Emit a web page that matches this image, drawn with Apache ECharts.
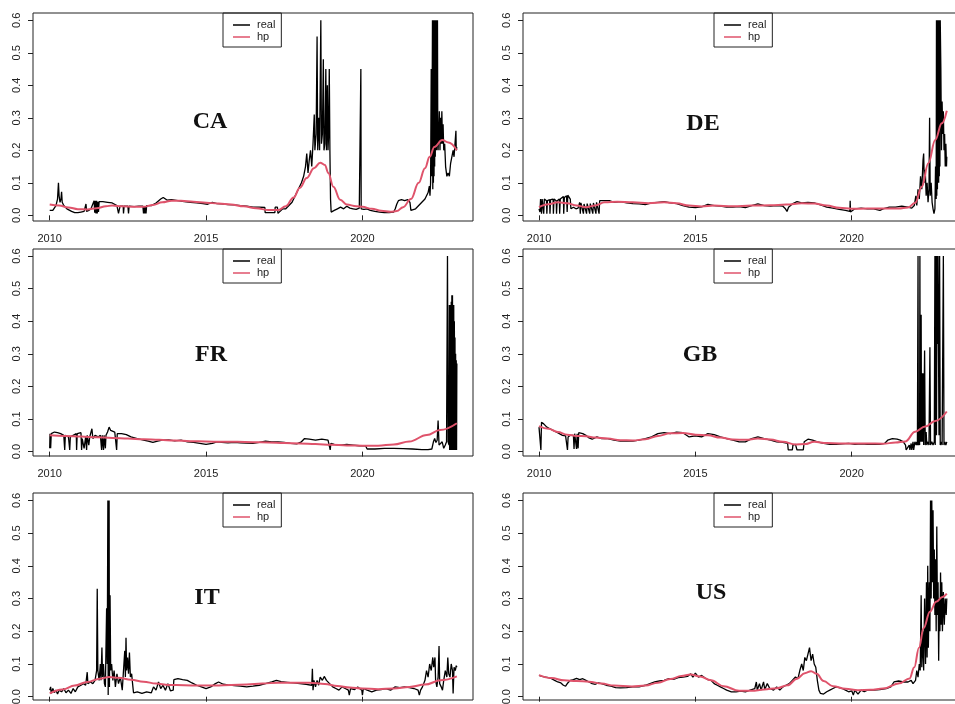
<!DOCTYPE html>
<html><head><meta charset="utf-8">
<script src="https://cdn.jsdelivr.net/npm/echarts@6/dist/echarts.min.js"></script>
<style>html,body{margin:0;padding:0;background:#fff}#c{width:955px;height:704px}</style>
</head><body><div id="c"></div>
<script>
const xTicks = [2010, 2015, 2020];
const yTicks = [0, 0.1, 0.2, 0.3, 0.4, 0.5, 0.6];
const countries = ['CA', 'DE', 'FR', 'GB', 'IT', 'US'];

const caReal = [[2010.00,0.015],[2010.05,0.012],[2010.10,0.015],[2010.15,0.02],[2010.20,0.03],[2010.25,0.05],[2010.28,0.10],[2010.30,0.06],[2010.33,0.04],[2010.36,0.05],[2010.38,0.072],[2010.40,0.04],[2010.45,0.03],[2010.50,0.035],[2010.55,0.02],[2010.60,0.015],[2010.70,0.012],[2010.80,0.008],[2010.90,0.008],[2011.00,0.01],[2011.10,0.012],[2011.16,0.035],[2011.18,0.012],[2011.25,0.015],[2011.32,0.02],[2011.38,0.015],[2011.42,0.045],[2011.44,0.008],[2011.46,0.045],[2011.48,0.006],[2011.50,0.045],[2011.52,0.006],[2011.54,0.042],[2011.56,0.01],[2011.58,0.042],[2011.70,0.042],[2011.85,0.04],[2012.00,0.038],[2012.15,0.03],[2012.19,0.03],[2012.20,0.006],[2012.24,0.006],[2012.25,0.028],[2012.35,0.028],[2012.36,0.006],[2012.38,0.028],[2012.50,0.028],[2012.52,0.006],[2012.54,0.028],[2012.70,0.027],[2012.85,0.028],[2012.98,0.028],[2013.00,0.006],[2013.02,0.028],[2013.04,0.006],[2013.06,0.028],[2013.08,0.006],[2013.10,0.03],[2013.25,0.03],[2013.40,0.038],[2013.55,0.05],[2013.63,0.055],[2013.75,0.047],[2013.90,0.048],[2014.10,0.045],[2014.30,0.042],[2014.50,0.04],[2014.70,0.038],[2014.90,0.036],[2015.05,0.034],[2015.20,0.04],[2015.35,0.036],[2015.50,0.035],[2015.70,0.033],[2015.90,0.032],[2016.10,0.03],[2016.30,0.028],[2016.50,0.025],[2016.70,0.025],[2016.88,0.024],[2016.89,0.008],[2017.10,0.008],[2017.20,0.008],[2017.21,0.025],[2017.28,0.025],[2017.30,0.006],[2017.35,0.012],[2017.45,0.02],[2017.55,0.02],[2017.65,0.03],[2017.75,0.04],[2017.85,0.06],[2017.95,0.08],[2018.05,0.1],[2018.12,0.12],[2018.18,0.15],[2018.22,0.19],[2018.26,0.13],[2018.30,0.17],[2018.34,0.2],[2018.38,0.15],[2018.42,0.22],[2018.46,0.31],[2018.48,0.2],[2018.52,0.25],[2018.55,0.55],[2018.57,0.2],[2018.60,0.3],[2018.63,0.2],[2018.67,0.6],[2018.69,0.22],[2018.72,0.25],[2018.75,0.48],[2018.77,0.2],[2018.80,0.22],[2018.83,0.45],[2018.85,0.2],[2018.88,0.4],[2018.90,0.2],[2018.92,0.25],[2018.94,0.45],[2018.96,0.2],[2018.98,0.05],[2019.00,0.01],[2019.05,0.005],[2019.10,0.015],[2019.20,0.02],[2019.30,0.025],[2019.40,0.02],[2019.50,0.028],[2019.60,0.022],[2019.70,0.02],[2019.80,0.018],[2019.90,0.022],[2019.94,0.02],[2019.95,0.45],[2019.96,0.02],[2020.05,0.018],[2020.15,0.02],[2020.25,0.015],[2020.40,0.012],[2020.55,0.01],[2020.70,0.008],[2020.85,0.008],[2021.00,0.01],[2021.05,0.02],[2021.10,0.035],[2021.15,0.045],[2021.25,0.048],[2021.35,0.045],[2021.45,0.048],[2021.52,0.04],[2021.55,0.015],[2021.60,0.012],[2021.70,0.02],[2021.80,0.03],[2021.90,0.04],[2022.00,0.05],[2022.05,0.06],[2022.10,0.07],[2022.14,0.09],[2022.16,0.06],[2022.18,0.1],[2022.20,0.45],[2022.22,0.12],[2022.24,0.6],[2022.25,0.08],[2022.26,0.6],[2022.27,0.1],[2022.28,0.6],[2022.29,0.12],[2022.30,0.6],[2022.31,0.15],[2022.32,0.6],[2022.33,0.18],[2022.34,0.6],[2022.35,0.2],[2022.36,0.6],[2022.37,0.2],[2022.38,0.6],[2022.39,0.22],[2022.40,0.6],[2022.41,0.22],[2022.42,0.2],[2022.44,0.25],[2022.46,0.32],[2022.48,0.2],[2022.50,0.3],[2022.52,0.22],[2022.54,0.32],[2022.56,0.22],[2022.58,0.28],[2022.60,0.2],[2022.63,0.22],[2022.66,0.15],[2022.70,0.12],[2022.74,0.13],[2022.78,0.12],[2022.82,0.16],[2022.86,0.18],[2022.90,0.2],[2022.93,0.18],[2022.96,0.22],[2022.99,0.26],[2023.00,0.2],[2023.02,0.21]];
const caHp = [[2010.0,0.033],[2010.3,0.03],[2010.6,0.024],[2010.9,0.019],[2011.2,0.018],[2011.5,0.022],[2011.8,0.028],[2012.0,0.03],[2012.3,0.028],[2012.7,0.026],[2013.0,0.026],[2013.3,0.032],[2013.6,0.04],[2013.9,0.045],[2014.2,0.045],[2014.6,0.042],[2015.0,0.039],[2015.4,0.036],[2015.8,0.033],[2016.2,0.028],[2016.6,0.022],[2017.0,0.016],[2017.3,0.016],[2017.55,0.028],[2017.8,0.055],[2018.0,0.085],[2018.22,0.115],[2018.45,0.145],[2018.65,0.162],[2018.8,0.155],[2018.91,0.13],[2019.07,0.088],[2019.29,0.048],[2019.5,0.033],[2019.8,0.028],[2020.0,0.026],[2020.3,0.02],[2020.6,0.014],[2020.9,0.011],[2021.1,0.013],[2021.3,0.025],[2021.55,0.05],[2021.8,0.1],[2022.0,0.145],[2022.15,0.18],[2022.3,0.21],[2022.55,0.232],[2022.75,0.224],[2023.02,0.2]];

const deReal = [[2010.00,0.02],[2010.03,0.01],[2010.05,0.05],[2010.08,0.005],[2010.10,0.05],[2010.14,0.05],[2010.15,0.005],[2010.17,0.05],[2010.24,0.045],[2010.25,0.005],[2010.27,0.045],[2010.34,0.048],[2010.35,0.005],[2010.37,0.048],[2010.45,0.05],[2010.46,0.005],[2010.48,0.05],[2010.55,0.045],[2010.56,0.005],[2010.58,0.045],[2010.65,0.05],[2010.66,0.005],[2010.68,0.05],[2010.78,0.058],[2010.79,0.005],[2010.81,0.055],[2010.88,0.06],[2010.90,0.01],[2010.92,0.062],[2011.00,0.05],[2011.02,0.02],[2011.10,0.025],[2011.18,0.02],[2011.25,0.022],[2011.30,0.04],[2011.32,0.005],[2011.34,0.038],[2011.40,0.035],[2011.42,0.005],[2011.44,0.035],[2011.50,0.038],[2011.52,0.005],[2011.54,0.036],[2011.60,0.035],[2011.62,0.005],[2011.64,0.036],[2011.70,0.04],[2011.72,0.005],[2011.74,0.038],[2011.80,0.04],[2011.82,0.005],[2011.84,0.04],[2011.90,0.042],[2011.92,0.005],[2011.94,0.045],[2012.00,0.05],[2012.10,0.045],[2012.25,0.045],[2012.40,0.04],[2012.60,0.042],[2012.80,0.038],[2013.00,0.036],[2013.20,0.035],[2013.40,0.033],[2013.60,0.038],[2013.80,0.04],[2014.00,0.042],[2014.20,0.038],[2014.40,0.036],[2014.60,0.03],[2014.80,0.025],[2015.00,0.024],[2015.20,0.026],[2015.40,0.034],[2015.60,0.03],[2015.80,0.028],[2016.00,0.025],[2016.20,0.025],[2016.40,0.027],[2016.60,0.024],[2016.80,0.03],[2017.00,0.035],[2017.20,0.03],[2017.40,0.028],[2017.60,0.03],[2017.80,0.028],[2017.88,0.02],[2017.93,0.012],[2017.98,0.025],[2018.10,0.035],[2018.25,0.042],[2018.40,0.038],[2018.60,0.04],[2018.80,0.038],[2019.00,0.032],[2019.20,0.025],[2019.40,0.022],[2019.60,0.018],[2019.80,0.015],[2019.94,0.012],[2019.95,0.045],[2019.96,0.01],[2020.10,0.02],[2020.30,0.022],[2020.50,0.02],[2020.70,0.02],[2020.90,0.015],[2021.00,0.02],[2021.20,0.025],[2021.40,0.025],[2021.60,0.028],[2021.80,0.025],[2021.92,0.022],[2022.00,0.03],[2022.05,0.06],[2022.08,0.03],[2022.12,0.08],[2022.16,0.05],[2022.20,0.12],[2022.24,0.08],[2022.28,0.17],[2022.30,0.19],[2022.32,0.1],[2022.35,0.14],[2022.38,0.06],[2022.41,0.1],[2022.44,0.04],[2022.47,0.08],[2022.49,0.3],[2022.51,0.06],[2022.54,0.1],[2022.57,0.04],[2022.60,0.02],[2022.63,0.005],[2022.66,0.02],[2022.68,0.15],[2022.70,0.05],[2022.71,0.6],[2022.72,0.06],[2022.73,0.6],[2022.74,0.08],[2022.75,0.6],[2022.76,0.1],[2022.77,0.6],[2022.78,0.1],[2022.79,0.6],[2022.80,0.12],[2022.81,0.6],[2022.82,0.15],[2022.83,0.6],[2022.85,0.45],[2022.87,0.2],[2022.89,0.35],[2022.91,0.25],[2022.93,0.32],[2022.95,0.2],[2022.97,0.25],[2022.99,0.15],[2023.01,0.22],[2023.03,0.15],[2023.04,0.18]];
const deHp = [[2010.0,0.025],[2010.3,0.034],[2010.6,0.04],[2010.9,0.037],[2011.2,0.03],[2011.5,0.025],[2011.8,0.03],[2012.1,0.04],[2012.5,0.042],[2013.0,0.04],[2013.5,0.037],[2014.0,0.04],[2014.4,0.037],[2014.8,0.03],[2015.2,0.027],[2015.6,0.03],[2016.2,0.028],[2016.8,0.03],[2017.4,0.031],[2017.9,0.033],[2018.4,0.037],[2018.8,0.036],[2019.2,0.03],[2019.6,0.023],[2020.0,0.02],[2020.5,0.021],[2021.0,0.021],[2021.5,0.021],[2021.8,0.024],[2022.03,0.039],[2022.24,0.088],[2022.45,0.16],[2022.67,0.232],[2022.88,0.283],[2023.04,0.322]];

const frReal = [[2010.00,0.01],[2010.01,0.055],[2010.03,0.01],[2010.05,0.055],[2010.15,0.06],[2010.25,0.058],[2010.35,0.055],[2010.45,0.05],[2010.48,0.005],[2010.50,0.05],[2010.60,0.045],[2010.64,0.005],[2010.66,0.045],[2010.75,0.05],[2010.85,0.055],[2010.86,0.005],[2010.88,0.055],[2011.00,0.058],[2011.02,0.005],[2011.04,0.04],[2011.10,0.01],[2011.15,0.045],[2011.18,0.005],[2011.20,0.05],[2011.25,0.02],[2011.28,0.045],[2011.35,0.07],[2011.38,0.04],[2011.45,0.05],[2011.55,0.045],[2011.62,0.05],[2011.66,0.005],[2011.68,0.05],[2011.72,0.005],[2011.74,0.05],[2011.78,0.01],[2011.80,0.05],[2011.85,0.06],[2011.90,0.075],[2011.95,0.065],[2012.00,0.07],[2012.08,0.06],[2012.12,0.058],[2012.14,0.005],[2012.16,0.055],[2012.30,0.055],[2012.45,0.052],[2012.60,0.045],[2012.80,0.04],[2013.00,0.035],[2013.15,0.032],[2013.30,0.028],[2013.45,0.032],[2013.60,0.035],[2013.80,0.036],[2014.00,0.033],[2014.20,0.035],[2014.40,0.03],[2014.60,0.028],[2014.80,0.025],[2015.00,0.022],[2015.20,0.025],[2015.35,0.03],[2015.50,0.028],[2015.70,0.027],[2015.90,0.028],[2016.10,0.027],[2016.30,0.026],[2016.50,0.025],[2016.70,0.028],[2016.90,0.032],[2017.10,0.03],[2017.30,0.03],[2017.50,0.028],[2017.70,0.025],[2017.90,0.024],[2018.05,0.03],[2018.15,0.04],[2018.30,0.038],[2018.50,0.035],[2018.70,0.038],[2018.90,0.035],[2018.96,0.03],[2018.97,0.005],[2018.99,0.025],[2019.10,0.022],[2019.30,0.02],[2019.50,0.022],[2019.70,0.02],[2019.90,0.018],[2020.10,0.018],[2020.15,0.008],[2020.40,0.008],[2020.70,0.01],[2021.00,0.01],[2021.30,0.009],[2021.60,0.008],[2021.90,0.006],[2022.10,0.006],[2022.22,0.008],[2022.27,0.03],[2022.31,0.04],[2022.35,0.028],[2022.39,0.035],[2022.42,0.095],[2022.45,0.02],[2022.50,0.015],[2022.55,0.03],[2022.60,0.01],[2022.65,0.02],[2022.69,0.03],[2022.72,0.6],[2022.74,0.03],[2022.77,0.02],[2022.78,0.45],[2022.79,0.005],[2022.80,0.45],[2022.81,0.005],[2022.82,0.45],[2022.83,0.005],[2022.84,0.46],[2022.85,0.005],[2022.86,0.48],[2022.87,0.005],[2022.88,0.48],[2022.89,0.005],[2022.90,0.45],[2022.91,0.005],[2022.92,0.45],[2022.93,0.005],[2022.94,0.4],[2022.95,0.005],[2022.96,0.35],[2022.97,0.005],[2022.98,0.3],[2022.99,0.005],[2023.00,0.28],[2023.01,0.005],[2023.02,0.27]];
const frHp = [[2010.0,0.05],[2010.5,0.048],[2011.0,0.046],[2011.5,0.044],[2012.0,0.042],[2012.5,0.04],[2013.0,0.038],[2013.5,0.036],[2014.0,0.034],[2014.5,0.032],[2015.0,0.031],[2015.5,0.03],[2016.0,0.03],[2016.5,0.029],[2017.0,0.028],[2017.5,0.026],[2018.0,0.025],[2018.5,0.023],[2019.0,0.021],[2019.5,0.019],[2020.0,0.018],[2020.5,0.018],[2021.0,0.022],[2021.5,0.031],[2022.06,0.051],[2022.48,0.066],[2023.02,0.087]];

const gbReal = [[2010.00,0.075],[2010.04,0.08],[2010.06,0.005],[2010.08,0.09],[2010.15,0.085],[2010.25,0.075],[2010.35,0.07],[2010.45,0.065],[2010.55,0.06],[2010.65,0.055],[2010.75,0.05],[2010.85,0.048],[2010.90,0.045],[2010.91,0.005],[2010.93,0.045],[2011.00,0.05],[2011.05,0.055],[2011.10,0.05],[2011.12,0.008],[2011.14,0.055],[2011.18,0.06],[2011.20,0.008],[2011.22,0.055],[2011.25,0.01],[2011.27,0.058],[2011.32,0.055],[2011.40,0.055],[2011.50,0.05],[2011.60,0.042],[2011.70,0.038],[2011.85,0.045],[2012.00,0.04],[2012.20,0.04],[2012.40,0.035],[2012.60,0.032],[2012.80,0.033],[2013.00,0.032],[2013.20,0.035],[2013.40,0.04],[2013.60,0.045],[2013.80,0.055],[2014.00,0.058],[2014.20,0.055],[2014.40,0.06],[2014.60,0.058],[2014.80,0.045],[2015.00,0.048],[2015.20,0.045],[2015.40,0.055],[2015.60,0.052],[2015.80,0.045],[2016.00,0.04],[2016.20,0.035],[2016.40,0.03],[2016.60,0.03],[2016.80,0.04],[2017.00,0.045],[2017.20,0.04],[2017.40,0.035],[2017.60,0.03],[2017.80,0.028],[2017.95,0.025],[2017.97,0.005],[2018.10,0.005],[2018.12,0.02],[2018.20,0.022],[2018.25,0.005],[2018.45,0.005],[2018.48,0.03],[2018.60,0.038],[2018.75,0.035],[2018.90,0.03],[2019.10,0.025],[2019.30,0.022],[2019.50,0.022],[2019.70,0.024],[2019.90,0.025],[2020.10,0.022],[2020.30,0.024],[2020.50,0.022],[2020.70,0.022],[2020.90,0.022],[2021.05,0.025],[2021.15,0.035],[2021.30,0.04],[2021.45,0.038],[2021.55,0.035],[2021.65,0.03],[2021.72,0.02],[2021.74,0.005],[2021.80,0.005],[2021.84,0.02],[2021.86,0.005],[2021.90,0.025],[2021.92,0.005],[2021.96,0.03],[2021.98,0.005],[2022.02,0.03],[2022.06,0.02],[2022.08,0.03],[2022.10,0.02],[2022.12,0.6],[2022.13,0.02],[2022.15,0.03],[2022.17,0.02],[2022.18,0.6],[2022.19,0.03],[2022.21,0.2],[2022.22,0.42],[2022.23,0.03],[2022.25,0.24],[2022.26,0.03],[2022.28,0.24],[2022.30,0.02],[2022.33,0.31],[2022.35,0.02],[2022.38,0.06],[2022.40,0.02],[2022.44,0.03],[2022.47,0.02],[2022.50,0.32],[2022.52,0.02],[2022.56,0.03],[2022.60,0.02],[2022.64,0.03],[2022.66,0.6],[2022.67,0.02],[2022.68,0.6],[2022.69,0.3],[2022.70,0.6],[2022.71,0.05],[2022.73,0.6],[2022.74,0.33],[2022.76,0.6],[2022.78,0.6],[2022.79,0.05],[2022.81,0.6],[2022.83,0.02],[2022.86,0.03],[2022.89,0.02],[2022.93,0.6],[2022.94,0.32],[2022.95,0.02],[2022.98,0.03],[2023.01,0.02],[2023.04,0.03]];
const gbHp = [[2010.0,0.078],[2010.3,0.07],[2010.6,0.06],[2010.9,0.052],[2011.2,0.048],[2011.5,0.047],[2011.8,0.043],[2012.2,0.04],[2012.6,0.035],[2013.0,0.034],[2013.4,0.038],[2013.8,0.048],[2014.2,0.056],[2014.6,0.057],[2015.0,0.052],[2015.4,0.05],[2015.8,0.043],[2016.2,0.037],[2016.6,0.036],[2017.0,0.04],[2017.4,0.037],[2017.8,0.03],[2018.2,0.022],[2018.5,0.023],[2018.8,0.03],[2019.2,0.026],[2019.6,0.025],[2020.0,0.025],[2020.5,0.025],[2021.0,0.024],[2021.4,0.028],[2021.71,0.031],[2022.03,0.061],[2022.35,0.077],[2022.67,0.094],[2023.04,0.123]];

const itReal = [[2010.00,0.02],[2010.03,0.03],[2010.05,0.01],[2010.10,0.025],[2010.15,0.012],[2010.20,0.02],[2010.25,0.008],[2010.30,0.02],[2010.38,0.015],[2010.45,0.025],[2010.52,0.012],[2010.60,0.02],[2010.68,0.01],[2010.75,0.025],[2010.82,0.015],[2010.90,0.03],[2011.00,0.035],[2011.08,0.04],[2011.15,0.035],[2011.20,0.075],[2011.22,0.04],[2011.30,0.045],[2011.38,0.04],[2011.45,0.05],[2011.50,0.08],[2011.52,0.33],[2011.54,0.08],[2011.58,0.05],[2011.62,0.1],[2011.64,0.05],[2011.67,0.15],[2011.69,0.06],[2011.72,0.1],[2011.75,0.04],[2011.78,0.03],[2011.82,0.27],[2011.84,0.1],[2011.86,0.6],[2011.87,0.005],[2011.88,0.6],[2011.89,0.1],[2011.90,0.6],[2011.91,0.03],[2011.93,0.31],[2011.95,0.08],[2011.98,0.1],[2012.02,0.05],[2012.06,0.08],[2012.10,0.03],[2012.15,0.07],[2012.20,0.04],[2012.26,0.06],[2012.32,0.02],[2012.36,0.08],[2012.40,0.14],[2012.42,0.06],[2012.44,0.18],[2012.46,0.08],[2012.49,0.12],[2012.52,0.07],[2012.55,0.135],[2012.58,0.06],[2012.62,0.07],[2012.65,0.04],[2012.68,0.012],[2012.80,0.015],[2012.95,0.01],[2013.10,0.015],[2013.25,0.012],[2013.32,0.03],[2013.40,0.02],[2013.48,0.045],[2013.55,0.025],[2013.62,0.035],[2013.70,0.02],[2013.78,0.04],[2013.86,0.018],[2013.95,0.02],[2013.97,0.052],[2014.10,0.055],[2014.25,0.052],[2014.40,0.05],[2014.55,0.042],[2014.70,0.035],[2014.85,0.03],[2015.00,0.025],[2015.15,0.03],[2015.30,0.04],[2015.40,0.045],[2015.55,0.038],[2015.70,0.036],[2015.90,0.034],[2016.10,0.032],[2016.30,0.03],[2016.50,0.032],[2016.70,0.035],[2016.90,0.04],[2017.10,0.045],[2017.25,0.05],[2017.40,0.046],[2017.60,0.044],[2017.80,0.042],[2018.00,0.04],[2018.20,0.038],[2018.38,0.035],[2018.40,0.085],[2018.42,0.02],[2018.45,0.05],[2018.50,0.03],[2018.55,0.05],[2018.60,0.035],[2018.65,0.06],[2018.72,0.05],[2018.78,0.062],[2018.85,0.05],[2018.95,0.04],[2019.05,0.03],[2019.15,0.025],[2019.25,0.02],[2019.35,0.03],[2019.45,0.025],[2019.55,0.02],[2019.58,0.005],[2019.62,0.025],[2019.75,0.022],[2019.85,0.03],[2019.98,0.02],[2020.00,0.005],[2020.03,0.025],[2020.15,0.02],[2020.30,0.015],[2020.45,0.02],[2020.60,0.022],[2020.75,0.025],[2020.90,0.02],[2021.05,0.03],[2021.20,0.028],[2021.35,0.03],[2021.50,0.028],[2021.65,0.025],[2021.78,0.02],[2021.82,0.005],[2021.86,0.02],[2021.92,0.03],[2022.00,0.05],[2022.05,0.08],[2022.10,0.06],[2022.15,0.1],[2022.20,0.08],[2022.25,0.12],[2022.28,0.09],[2022.32,0.12],[2022.34,0.05],[2022.38,0.03],[2022.42,0.06],[2022.45,0.155],[2022.47,0.04],[2022.52,0.03],[2022.56,0.02],[2022.60,0.05],[2022.65,0.08],[2022.70,0.06],[2022.73,0.12],[2022.76,0.07],[2022.80,0.06],[2022.84,0.1],[2022.88,0.08],[2022.90,0.01],[2022.93,0.09],[2022.97,0.08],[2023.00,0.095],[2023.02,0.09]];
const itHp = [[2010.0,0.01],[2010.4,0.022],[2010.8,0.034],[2011.2,0.045],[2011.6,0.055],[2011.9,0.06],[2012.2,0.058],[2012.6,0.052],[2013.0,0.046],[2013.4,0.04],[2013.8,0.036],[2014.3,0.035],[2014.8,0.034],[2015.3,0.034],[2015.8,0.036],[2016.3,0.037],[2016.8,0.04],[2017.3,0.043],[2017.8,0.043],[2018.3,0.043],[2018.8,0.039],[2019.2,0.033],[2019.6,0.028],[2020.0,0.025],[2020.5,0.023],[2021.0,0.025],[2021.5,0.03],[2022.0,0.037],[2022.5,0.05],[2023.02,0.062]];

const usReal = [[2010.00,0.065],[2010.10,0.062],[2010.20,0.06],[2010.30,0.058],[2010.40,0.055],[2010.50,0.05],[2010.60,0.045],[2010.70,0.042],[2010.78,0.035],[2010.85,0.032],[2010.92,0.042],[2011.00,0.05],[2011.10,0.052],[2011.20,0.056],[2011.30,0.052],[2011.40,0.055],[2011.50,0.05],[2011.60,0.045],[2011.70,0.04],[2011.80,0.038],[2011.90,0.042],[2012.00,0.04],[2012.15,0.035],[2012.30,0.032],[2012.45,0.028],[2012.60,0.027],[2012.80,0.028],[2013.00,0.03],[2013.20,0.03],[2013.40,0.035],[2013.55,0.04],[2013.70,0.045],[2013.85,0.048],[2014.00,0.05],[2014.15,0.055],[2014.30,0.053],[2014.45,0.058],[2014.60,0.06],[2014.75,0.062],[2014.85,0.07],[2014.92,0.06],[2015.00,0.072],[2015.10,0.06],[2015.20,0.065],[2015.30,0.058],[2015.40,0.052],[2015.50,0.05],[2015.60,0.04],[2015.70,0.035],[2015.80,0.03],[2015.90,0.025],[2016.00,0.02],[2016.15,0.015],[2016.30,0.015],[2016.45,0.017],[2016.60,0.015],[2016.75,0.02],[2016.90,0.025],[2016.95,0.045],[2016.98,0.02],[2017.05,0.04],[2017.10,0.02],[2017.18,0.045],[2017.22,0.022],[2017.30,0.04],[2017.38,0.025],[2017.50,0.02],[2017.60,0.03],[2017.70,0.02],[2017.80,0.03],[2017.90,0.035],[2018.00,0.04],[2018.10,0.05],[2018.20,0.06],[2018.28,0.055],[2018.34,0.08],[2018.40,0.1],[2018.45,0.08],[2018.50,0.12],[2018.55,0.11],[2018.60,0.13],[2018.65,0.15],[2018.70,0.11],[2018.75,0.13],[2018.80,0.1],[2018.85,0.09],[2018.90,0.05],[2018.95,0.02],[2019.00,0.01],[2019.10,0.008],[2019.20,0.015],[2019.30,0.02],[2019.40,0.025],[2019.50,0.03],[2019.60,0.028],[2019.70,0.025],[2019.80,0.02],[2019.90,0.015],[2020.00,0.018],[2020.05,0.005],[2020.10,0.02],[2020.20,0.008],[2020.30,0.02],[2020.40,0.015],[2020.50,0.02],[2020.70,0.02],[2020.90,0.022],[2021.10,0.025],[2021.25,0.03],[2021.35,0.045],[2021.50,0.048],[2021.65,0.045],[2021.80,0.045],[2021.90,0.05],[2021.96,0.04],[2022.00,0.035],[2022.04,0.05],[2022.08,0.08],[2022.12,0.06],[2022.16,0.1],[2022.19,0.08],[2022.22,0.31],[2022.24,0.09],[2022.27,0.2],[2022.30,0.08],[2022.33,0.3],[2022.36,0.1],[2022.39,0.35],[2022.41,0.12],[2022.43,0.4],[2022.45,0.15],[2022.48,0.35],[2022.50,0.2],[2022.52,0.6],[2022.54,0.3],[2022.56,0.6],[2022.58,0.35],[2022.60,0.57],[2022.62,0.3],[2022.64,0.45],[2022.66,0.25],[2022.68,0.42],[2022.70,0.2],[2022.72,0.52],[2022.74,0.25],[2022.76,0.35],[2022.78,0.11],[2022.80,0.3],[2022.82,0.2],[2022.84,0.38],[2022.86,0.22],[2022.88,0.35],[2022.90,0.2],[2022.93,0.32],[2022.96,0.22],[2022.99,0.3],[2023.02,0.25],[2023.04,0.3]];
const usHp = [[2010.0,0.066],[2010.4,0.057],[2010.8,0.05],[2011.2,0.048],[2011.6,0.046],[2012.0,0.04],[2012.4,0.034],[2012.97,0.031],[2013.4,0.034],[2013.8,0.043],[2014.2,0.054],[2014.55,0.063],[2014.85,0.068],[2015.15,0.062],[2015.5,0.05],[2015.9,0.032],[2016.4,0.018],[2016.8,0.018],[2017.2,0.022],[2017.6,0.026],[2017.95,0.035],[2018.25,0.055],[2018.5,0.072],[2018.7,0.078],[2018.88,0.07],[2019.1,0.048],[2019.4,0.032],[2019.8,0.024],[2020.2,0.02],[2020.6,0.021],[2021.0,0.025],[2021.53,0.041],[2021.85,0.056],[2022.0,0.09],[2022.15,0.15],[2022.3,0.21],[2022.5,0.26],[2022.7,0.29],[2022.9,0.305],[2023.04,0.315]];

const realData = [caReal, deReal, frReal, gbReal, itReal, usReal];
const hpData = [caHp, deHp, frHp, gbHp, itHp, usHp];

// layout (pixels)
const rowLayout = [
  {top: 13, height: 208, ymin: -0.0175, ymax: 0.6225},
  {top: 249, height: 207, ymin: -0.0135, ymax: 0.6215},
  {top: 493, height: 207, ymin: -0.0101, ymax: 0.6227}
];
const colLayout = [
  {left: 33, xmin: 2009.466, legLeft: 223},
  {left: 523, xmin: 2009.488, legLeft: 714}
];
const labelPos = [[210, 122], [703, 124], [211, 355], [700, 355], [207, 598], [711, 593]];
const XSPAN = 14.07;
const INK = '#222';
const HP_COLOR = '#DF536B';

const grids = [], xAxes = [], yAxes = [], series = [], legends = [], graphics = [];
countries.forEach((c, i) => {
  const r = rowLayout[Math.floor(i / 2)], col = colLayout[i % 2];
  grids.push({left: col.left, top: r.top, width: 440, height: r.height, show: true,
    borderColor: INK, borderWidth: 1, backgroundColor: 'transparent', containLabel: false, outerBoundsMode: 'none'});
  xAxes.push({type: 'value', gridIndex: i, min: col.xmin, max: col.xmin + XSPAN,
    axisLine: {show: false}, splitLine: {show: false},
    axisTick: {show: true, customValues: xTicks, length: 5, lineStyle: {color: INK, width: 1}},
    axisLabel: {show: true, customValues: xTicks, fontSize: 11, color: INK, margin: 12,
      fontFamily: 'Liberation Sans', formatter: v => String(v)}});
  yAxes.push({type: 'value', gridIndex: i, min: r.ymin, max: r.ymax,
    axisLine: {show: false}, splitLine: {show: false},
    axisTick: {show: true, customValues: yTicks, length: 5, lineStyle: {color: INK, width: 1}},
    axisLabel: {show: true, customValues: yTicks, rotate: 90, fontSize: 11, color: INK, margin: 11,
      fontFamily: 'Liberation Sans', formatter: v => v.toFixed(1)}});
  series.push({name: 'real', type: 'line', xAxisIndex: i, yAxisIndex: i, data: realData[i],
    symbol: 'none', showSymbol: false, lineStyle: {color: '#000', width: 1.3}, itemStyle: {color: '#000'},
    silent: true, z: 2});
  series.push({name: 'hp', type: 'line', xAxisIndex: i, yAxisIndex: i, data: hpData[i],
    symbol: 'none', showSymbol: false, smooth: 0.4, smoothMonotone: 'x',
    lineStyle: {color: HP_COLOR, width: 2}, itemStyle: {color: HP_COLOR}, silent: true, z: 3});
  legends.push({left: col.legLeft, top: r.top, orient: 'vertical', data: ['real', 'hp'],
    icon: 'rect', itemWidth: 17, itemHeight: 1.5, itemGap: 0, selectedMode: false,
    itemStyle: {borderWidth: 0},
    borderColor: INK, borderWidth: 1, borderRadius: 0, backgroundColor: 'transparent',
    padding: [6, 6, 4, 10],
    textStyle: {fontSize: 11, color: INK, fontFamily: 'Liberation Sans', lineHeight: 12, padding: [0, 0, 0, 2]}});
  graphics.push({type: 'text', x: labelPos[i][0], y: labelPos[i][1], silent: true,
    style: {text: c, align: 'center', verticalAlign: 'middle',
      font: 'bold 24px "Liberation Serif", "DejaVu Serif", serif', fill: '#111'}});
});

const chart = echarts.init(document.getElementById('c'), null, {renderer: 'canvas'});
chart.setOption({
  animation: false,
  backgroundColor: '#fff',
  textStyle: {fontFamily: 'Liberation Sans'},
  grid: grids, xAxis: xAxes, yAxis: yAxes, series: series, legend: legends, graphic: graphics,
  tooltip: {show: false}
});
</script></body></html>
